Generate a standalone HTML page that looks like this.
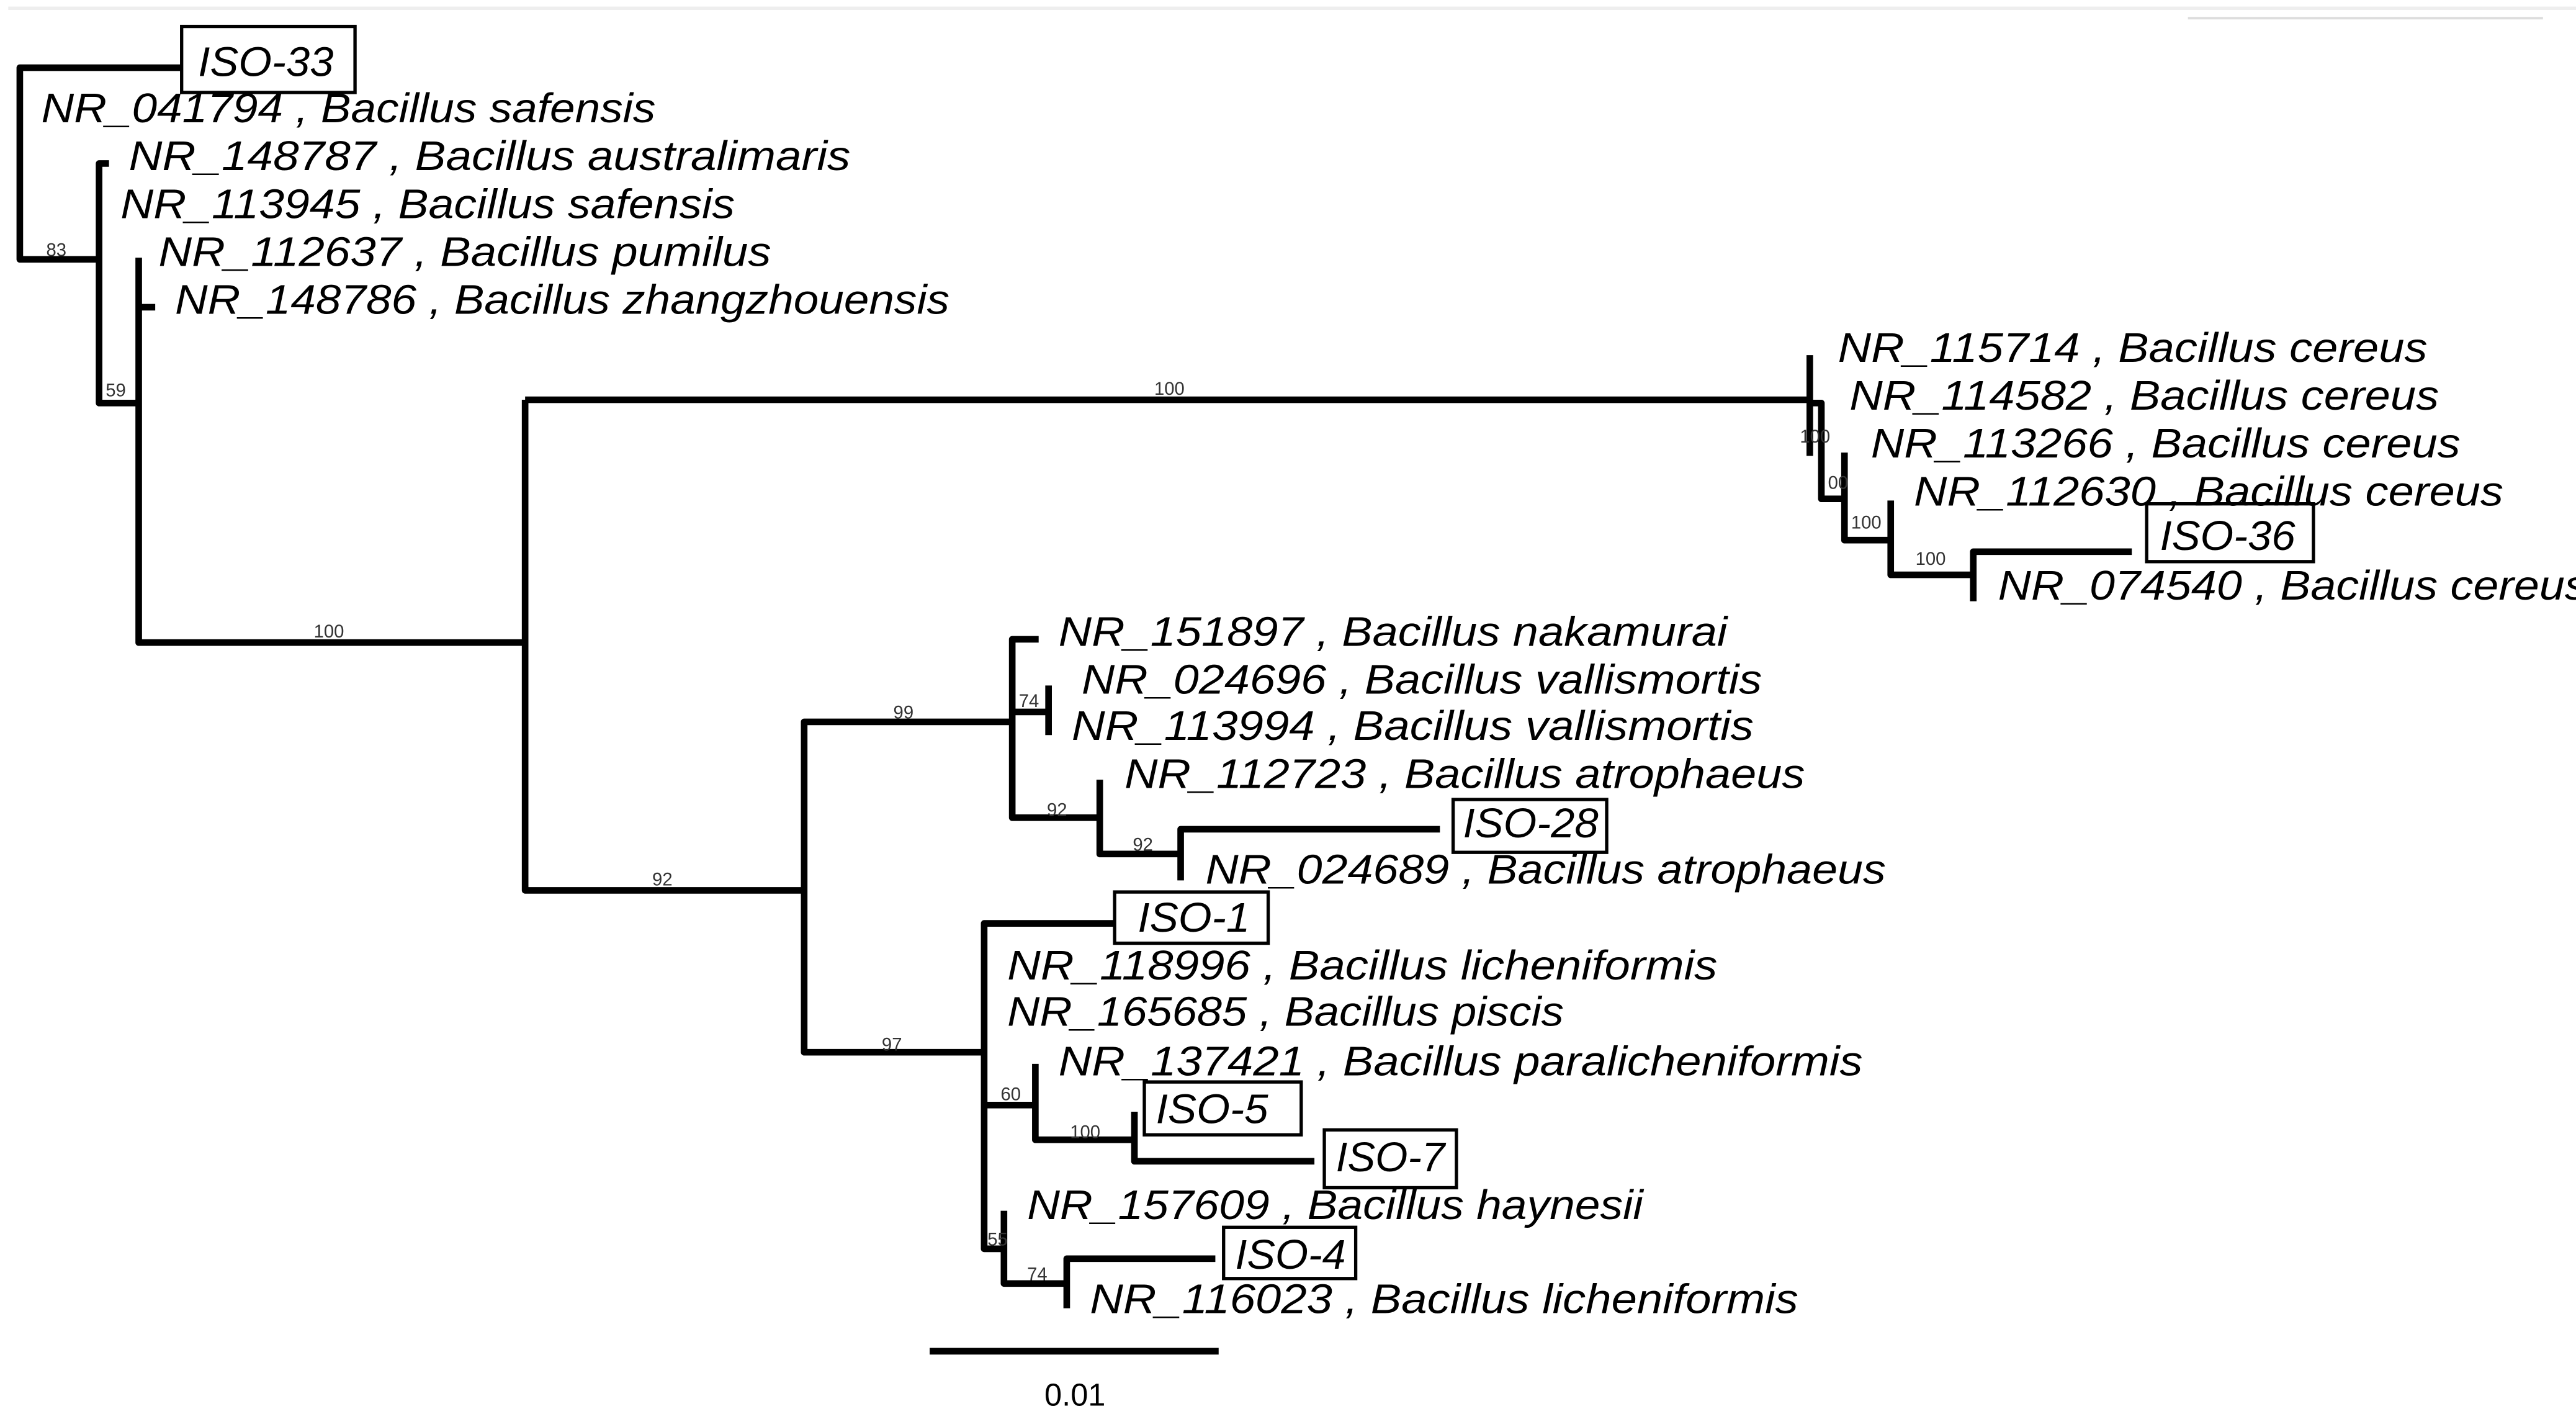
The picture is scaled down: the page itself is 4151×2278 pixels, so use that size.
<!DOCTYPE html>
<html><head><meta charset="utf-8"><style>
html,body{margin:0;padding:0;background:#fff;width:4151px;height:2278px;overflow:hidden}
svg{display:block}
.t{font-family:"Liberation Sans",sans-serif;font-style:italic;font-size:25px;fill:#000}
.b{font-family:"Liberation Sans",sans-serif;font-size:11px;fill:#333}
.l{fill:none;stroke:#000;stroke-width:4;stroke-linejoin:round;stroke-linecap:butt}
.bx{fill:#fff;stroke:#000;stroke-width:2}
</style></head><body>
<svg width="4151" height="2278" viewBox="0 0 1560 856" preserveAspectRatio="none" xmlns="http://www.w3.org/2000/svg">
<line x1="5" y1="5" x2="1560" y2="5" stroke="#eee" stroke-width="2"/>
<line x1="1325" y1="11" x2="1540" y2="11" stroke="#ddd" stroke-width="1.5"/>

<!-- outgroup -->
<path class="l" d="M110 41 H12 V157 H60"/>
<path class="l" d="M66 99 H60 V244 H84"/>
<path class="l" d="M84 156 V389 H318"/>
<path class="l" d="M84 186 H94"/>
<path class="l" d="M318 242 V539 H487"/>
<path class="l" d="M318 242 H1096"/>
<text class="b" x="28" y="155">83</text>
<text class="b" x="64" y="240">59</text>
<text class="b" x="190" y="386">100</text>
<text class="b" x="699" y="239">100</text>
<text class="b" x="395" y="536">92</text>

<!-- cereus -->
<path class="l" d="M1096 215 V276"/>
<path class="l" d="M1096 244 H1103 V302 H1117"/>
<path class="l" d="M1117 274 V327 H1145"/>
<path class="l" d="M1145 303 V348 H1195"/>
<path class="l" d="M1195 364 V334 H1291"/>
<text class="b" x="1090" y="268">100</text>
<text class="b" x="1107" y="296">00</text>
<text class="b" x="1121" y="320">100</text>
<text class="b" x="1160" y="342">100</text>

<!-- lower clade -->
<path class="l" d="M613 437 H487 V637 H596"/>
<path class="l" d="M629 387 H613 V495 H666"/>
<path class="l" d="M613 431 H635"/>
<path class="l" d="M635 415 V445"/>
<path class="l" d="M666 472 V517 H715"/>
<path class="l" d="M715 533 V502 H872"/>
<text class="b" x="541" y="435">99</text>
<text class="b" x="534" y="636">97</text>
<text class="b" x="617" y="428">74</text>
<text class="b" x="634" y="494">92</text>
<text class="b" x="686" y="515">92</text>

<path class="l" d="M676 559 H596 V756 H608"/>
<path class="l" d="M596 669 H627"/>
<path class="l" d="M627 644 V690 H687"/>
<path class="l" d="M687 673 V703 H796"/>
<path class="l" d="M608 733 V777 H646"/>
<path class="l" d="M646 792 V762 H736"/>
<text class="b" x="606" y="666">60</text>
<text class="b" x="648" y="689">100</text>
<text class="b" x="598" y="754">55</text>
<text class="b" x="622" y="775">74</text>

<!-- scale -->
<path class="l" d="M563 818 H738"/>
<text x="651" y="851" text-anchor="middle" style="font-family:'Liberation Sans',sans-serif;font-size:19px">0.01</text>

<!-- boxes -->
<rect class="bx" x="110" y="16" width="105" height="40"/>
<rect class="bx" x="880" y="484" width="93" height="32"/>
<rect class="bx" x="1300" y="305" width="101" height="35"/>
<rect class="bx" x="675" y="540" width="93" height="31"/>
<rect class="bx" x="693" y="655" width="95" height="32"/>
<rect class="bx" x="802" y="684" width="80" height="35"/>
<rect class="bx" x="741" y="743" width="80" height="31"/>

<!-- labels -->
<text class="t" x="120" y="46" textLength="82" lengthAdjust="spacingAndGlyphs">ISO-33</text>
<text class="t" x="25" y="74" textLength="372" lengthAdjust="spacingAndGlyphs">NR_041794 ,  Bacillus safensis</text>
<text class="t" x="78" y="103" textLength="437" lengthAdjust="spacingAndGlyphs">NR_148787 ,  Bacillus australimaris</text>
<text class="t" x="73" y="132" textLength="372" lengthAdjust="spacingAndGlyphs">NR_113945 ,  Bacillus safensis</text>
<text class="t" x="96" y="161" textLength="371" lengthAdjust="spacingAndGlyphs">NR_112637 ,  Bacillus pumilus</text>
<text class="t" x="106" y="190" textLength="469" lengthAdjust="spacingAndGlyphs">NR_148786 ,  Bacillus zhangzhouensis</text>

<text class="t" x="1113" y="219" textLength="357" lengthAdjust="spacingAndGlyphs">NR_115714 ,  Bacillus cereus</text>
<text class="t" x="1120" y="248" textLength="357" lengthAdjust="spacingAndGlyphs">NR_114582 ,  Bacillus cereus</text>
<text class="t" x="1133" y="277" textLength="357" lengthAdjust="spacingAndGlyphs">NR_113266 ,  Bacillus cereus</text>
<text class="t" x="1159" y="306" textLength="357" lengthAdjust="spacingAndGlyphs">NR_112630 ,  Bacillus cereus</text>
<text class="t" x="1308" y="333" textLength="82" lengthAdjust="spacingAndGlyphs">ISO-36</text>
<text class="t" x="1210" y="363" textLength="357" lengthAdjust="spacingAndGlyphs">NR_074540 ,  Bacillus cereus</text>

<text class="t" x="641" y="391" textLength="405" lengthAdjust="spacingAndGlyphs">NR_151897 ,  Bacillus nakamurai</text>
<text class="t" x="655" y="420" textLength="412" lengthAdjust="spacingAndGlyphs">NR_024696 ,  Bacillus vallismortis</text>
<text class="t" x="649" y="448" textLength="413" lengthAdjust="spacingAndGlyphs">NR_113994 ,  Bacillus vallismortis</text>
<text class="t" x="681" y="477" textLength="412" lengthAdjust="spacingAndGlyphs">NR_112723 ,  Bacillus atrophaeus</text>
<text class="t" x="886" y="507" textLength="82" lengthAdjust="spacingAndGlyphs">ISO-28</text>
<text class="t" x="730" y="535" textLength="412" lengthAdjust="spacingAndGlyphs">NR_024689 ,  Bacillus atrophaeus</text>
<text class="t" x="689" y="564" textLength="68" lengthAdjust="spacingAndGlyphs">ISO-1</text>
<text class="t" x="610" y="593" textLength="430" lengthAdjust="spacingAndGlyphs">NR_118996 ,  Bacillus licheniformis</text>
<text class="t" x="610" y="621" textLength="337" lengthAdjust="spacingAndGlyphs">NR_165685 ,  Bacillus piscis</text>
<text class="t" x="641" y="651" textLength="487" lengthAdjust="spacingAndGlyphs">NR_137421 ,  Bacillus paralicheniformis</text>
<text class="t" x="700" y="680" textLength="68" lengthAdjust="spacingAndGlyphs">ISO-5</text>
<text class="t" x="809" y="709" textLength="66" lengthAdjust="spacingAndGlyphs">ISO-7</text>
<text class="t" x="622" y="738" textLength="373" lengthAdjust="spacingAndGlyphs">NR_157609 ,  Bacillus haynesii</text>
<text class="t" x="748" y="768" textLength="67" lengthAdjust="spacingAndGlyphs">ISO-4</text>
<text class="t" x="660" y="795" textLength="429" lengthAdjust="spacingAndGlyphs">NR_116023 ,  Bacillus licheniformis</text>
</svg>
</body></html>
